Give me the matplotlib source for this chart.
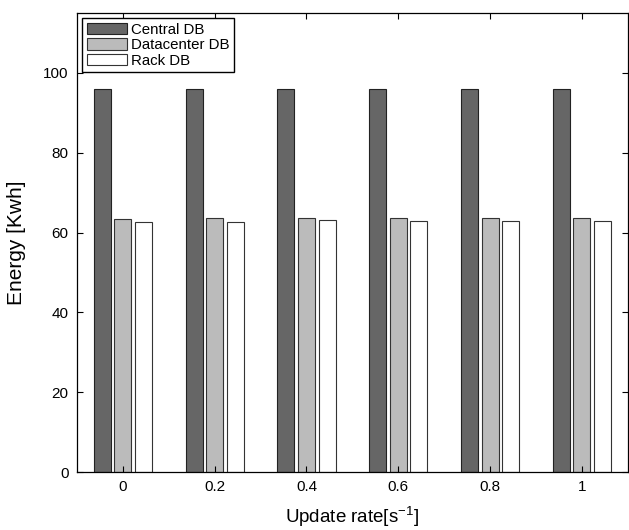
import matplotlib.pyplot as plt
import numpy as np

plt.rcParams['font.family'] = ['Liberation Sans', 'DejaVu Sans']
plt.rcParams['mathtext.fontset'] = 'custom'
plt.rcParams['mathtext.rm'] = 'Liberation Sans'

rates = ['0', '0.2', '0.4', '0.6', '0.8', '1']
central_db = [96.0, 96.0, 96.0, 96.0, 96.0, 96.0]
datacenter_db = [63.3, 63.6, 63.6, 63.6, 63.6, 63.6]
rack_db = [62.6, 62.7, 63.2, 62.9, 62.9, 62.9]

x = np.arange(1, len(rates) + 1)
w = 0.185
off = 0.225

fig = plt.figure(figsize=(6.29, 5.30), dpi=100)
ax = fig.add_axes([0.1224, 0.1094, 0.8756, 0.8661])

ax.bar(x - off, central_db, w, color='#666666', edgecolor='#222222', lw=0.8, label='Central DB')
ax.bar(x, datacenter_db, w, color='#bbbbbb', edgecolor='#333333', lw=0.8, label='Datacenter DB')
ax.bar(x + off, rack_db, w, color='white', edgecolor='#333333', lw=0.8, label='Rack DB')

ax.set_xlim(0.5, 6.5)
ax.set_ylim(0, 115)
ax.set_xticks(x)
ax.set_xticklabels(rates)
ax.set_yticks(np.arange(0, 101, 20))
ax.tick_params(direction='in', top=True, right=True, labelsize=11, length=4, pad=6)
for s in ax.spines.values():
    s.set_linewidth(0.9)

ax.set_xlabel(r'Update rate[s$^{\mathrm{-1}}$]', fontsize=13.5, labelpad=7)
ax.set_ylabel('Energy [Kwh]', fontsize=15, labelpad=12)

ax.legend(loc='upper left', fontsize=10.8, handlelength=2.7, handleheight=0.8,
          labelspacing=0.1, handletextpad=0.25, borderpad=0.3, borderaxespad=0.35,
          fancybox=False, edgecolor='black', framealpha=1)

fig.savefig('out.png', dpi=100)
